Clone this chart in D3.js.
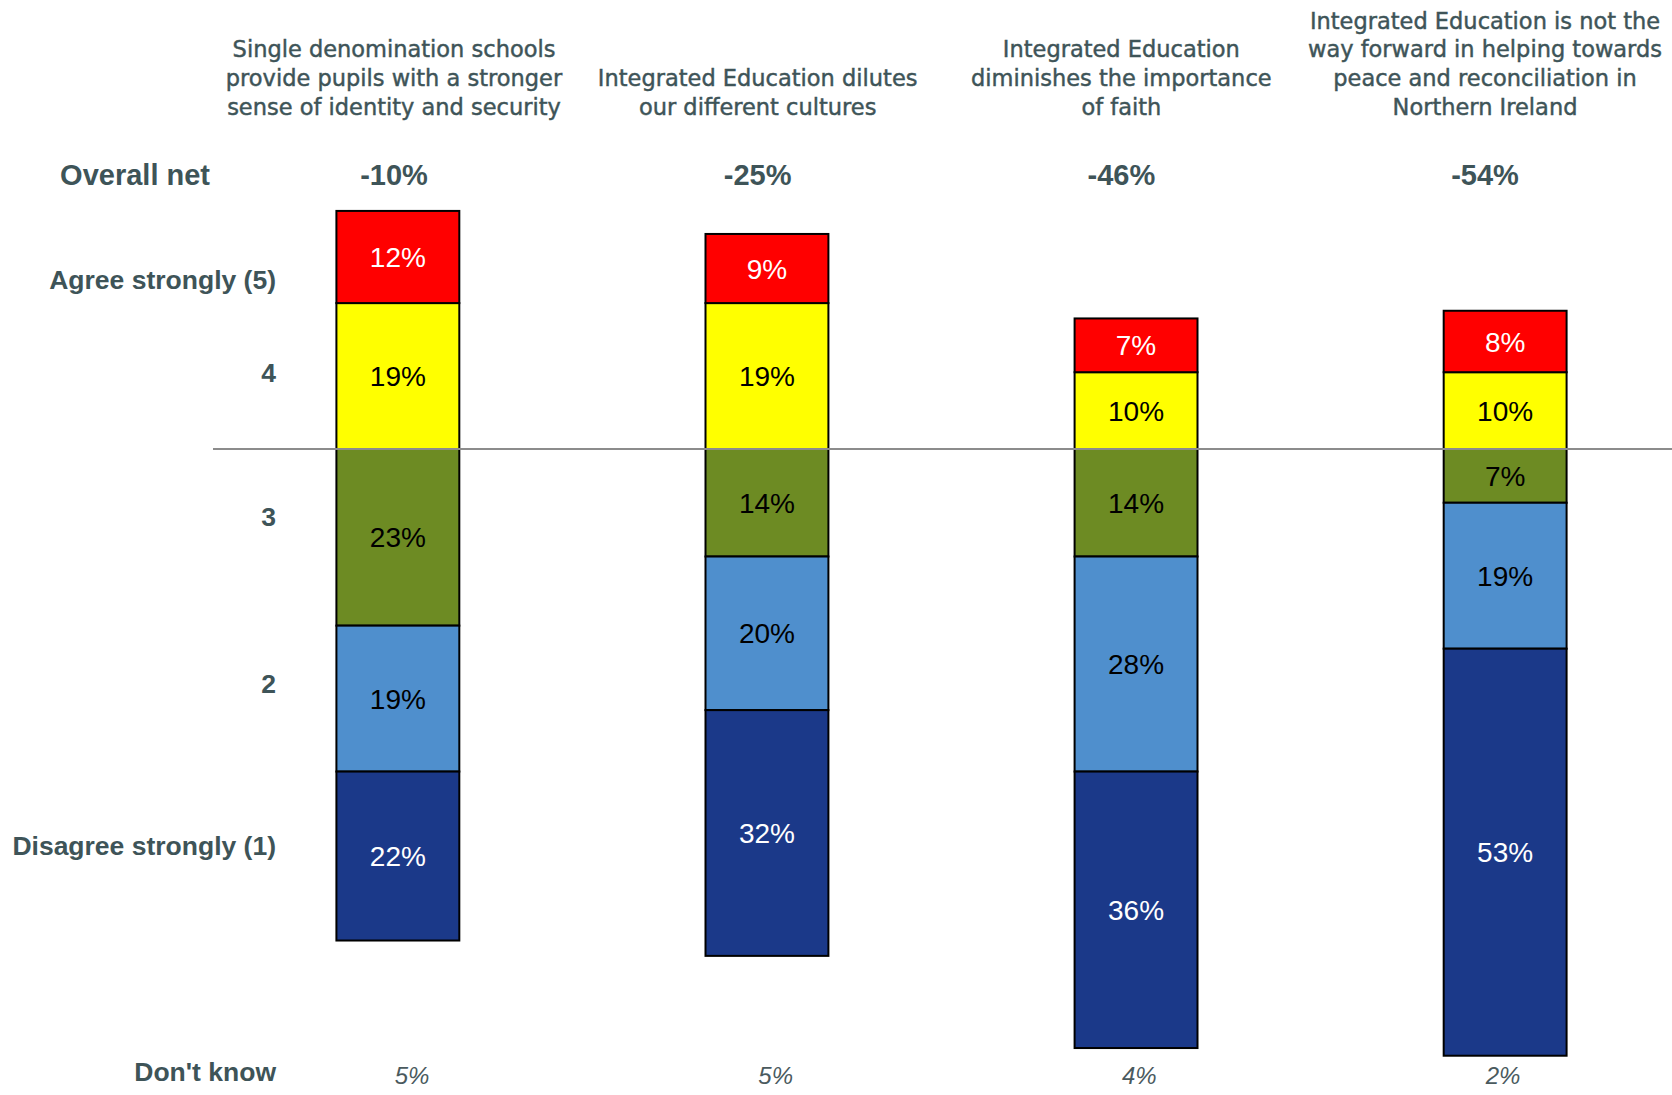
<!DOCTYPE html>
<html>
<head>
<meta charset="utf-8">
<script src="https://cdn.jsdelivr.net/npm/d3@7"></script>
<style>
  html, body { margin: 0; padding: 0; background: #fff; }
  svg { display: block; }
  .title { font-family: "DejaVu Sans", sans-serif; font-size: 22.5px; fill: #3e5458; stroke: #3e5458; stroke-width: 0.45px; }
  .bold { font-family: "Liberation Sans", Arial, sans-serif; font-weight: bold; fill: #3e5458; }
  .seg { font-family: "Liberation Sans", Arial, sans-serif; font-size: 28px; }
  .dk { font-family: "Liberation Sans", Arial, sans-serif; font-style: italic; font-size: 24px; fill: #4a5a5e; }
</style>
</head>
<body>
<script>
// ---- Data ----
const categories = [
  "Single denomination schools|provide pupils with a stronger|sense of identity and security",
  "Integrated Education dilutes|our different cultures",
  "Integrated Education|diminishes the importance|of faith",
  "Integrated Education is not the|way forward in helping towards|peace and reconciliation in|Northern Ireland"
];
const overallNet = [-10, -25, -46, -54];
const agreeStrongly = [12, 9, 7, 8];      // (5)
const agree4 = [19, 19, 10, 10];          // 4
const neutral3 = [23, 14, 14, 7];         // 3
const disagree2 = [19, 20, 28, 19];       // 2
const disagreeStrongly = [22, 32, 36, 53];// (1)
const dontKnow = [5, 5, 4, 2];
const rowLabels = ["Agree strongly (5)", "4", "3", "2", "Disagree strongly (1)", "Don't know"];

// ---- Setup ----
const W = 1672, H = 1095;
const svg = d3.select("body").append("svg").attr("width", W).attr("height", H);
svg.append("rect").attr("width", W).attr("height", H).attr("fill", "#fff");

const x = d3.scaleBand().domain(d3.range(categories.length))
  .range([213.5, 1689.5]).paddingInner(0.667).paddingOuter(0.333);
const headerX = d3.scalePoint().domain(d3.range(categories.length)).range([394, 1485]);
const dkX = d3.scalePoint().domain(d3.range(categories.length)).range([412, 1503]);
const y = d3.scaleLinear().domain([0, 100]).range([449, 449 - 768]);

const series = [
  { key: "agreeStrongly", vals: agreeStrongly, fill: "#ff0000", text: "#ffffff" },
  { key: "agree4", vals: agree4, fill: "#ffff00", text: "#000000" },
  { key: "neutral3", vals: neutral3, fill: "#6d8b23", text: "#000000" },
  { key: "disagree2", vals: disagree2, fill: "#4f8fcd", text: "#000000" },
  { key: "disagreeStrongly", vals: disagreeStrongly, fill: "#1b3989", text: "#ffffff" }
];

// compute stacked segments: agree above 0, rest below
const segs = [];
categories.forEach((c, i) => {
  const a4 = agree4[i], a5 = agreeStrongly[i];
  segs.push({ i, s: series[1], y0: 0, y1: a4 });
  segs.push({ i, s: series[0], y0: a4, y1: a4 + a5 });
  let base = 0;
  [series[2], series[3], series[4]].forEach(s => {
    const v = s.vals[i];
    segs.push({ i, s, y0: base, y1: base - v });
    base -= v;
  });
});

// bars
svg.append("g").selectAll("rect").data(segs).join("rect")
  .attr("x", d => x(d.i))
  .attr("width", x.bandwidth())
  .attr("y", d => y(Math.max(d.y0, d.y1)))
  .attr("height", d => Math.abs(y(d.y0) - y(d.y1)))
  .attr("fill", d => d.s.fill)
  .attr("stroke", "#000").attr("stroke-width", 2);

// segment labels
svg.append("g").selectAll("text").data(segs).join("text")
  .attr("class", "seg")
  .attr("x", d => x(d.i) + x.bandwidth() / 2)
  .attr("y", d => (y(d.y0) + y(d.y1)) / 2)
  .attr("dy", "0.36em")
  .attr("text-anchor", "middle")
  .attr("fill", d => d.s.text)
  .text(d => d.s.vals[d.i] + "%");

// zero line
svg.append("line").attr("x1", 213).attr("x2", W).attr("y1", y(0)).attr("y2", y(0))
  .attr("stroke", "#8c8c8c").attr("stroke-width", 2);

// titles (bottom aligned)
const lineH = 28.8;
categories.forEach((c, i) => {
  const lines = c.split("|");
  const t = svg.append("text").attr("class", "title").attr("text-anchor", "middle");
  lines.forEach((ln, k) => {
    t.append("tspan").attr("x", headerX(i))
      .attr("y", 115 - (lines.length - 1 - k) * lineH)
      .text(ln);
  });
});

// overall net
svg.append("text").attr("class", "bold").attr("font-size", 29)
  .attr("x", 210).attr("y", 185).attr("text-anchor", "end").text("Overall net");
svg.append("g").selectAll("text").data(overallNet).join("text")
  .attr("class", "bold").attr("font-size", 29)
  .attr("x", (d, i) => headerX(i)).attr("y", 185).attr("text-anchor", "middle")
  .text(d => d + "%");

// row labels
const rowPos = [22.1, 10, -8.8, -30.5, -51.6, -81];
svg.append("g").selectAll("text").data(rowLabels).join("text")
  .attr("class", "bold").attr("font-size", 26.5)
  .attr("x", 276).attr("y", (d, k) => y(rowPos[k])).attr("dy", "0.36em")
  .attr("text-anchor", "end").text(d => d);

// don't know values
svg.append("g").selectAll("text").data(dontKnow).join("text")
  .attr("class", "dk")
  .attr("x", (d, i) => dkX(i)).attr("y", y(-81.4)).attr("dy", "0.4em")
  .attr("text-anchor", "middle").text(d => d + "%");
</script>
</body>
</html>
